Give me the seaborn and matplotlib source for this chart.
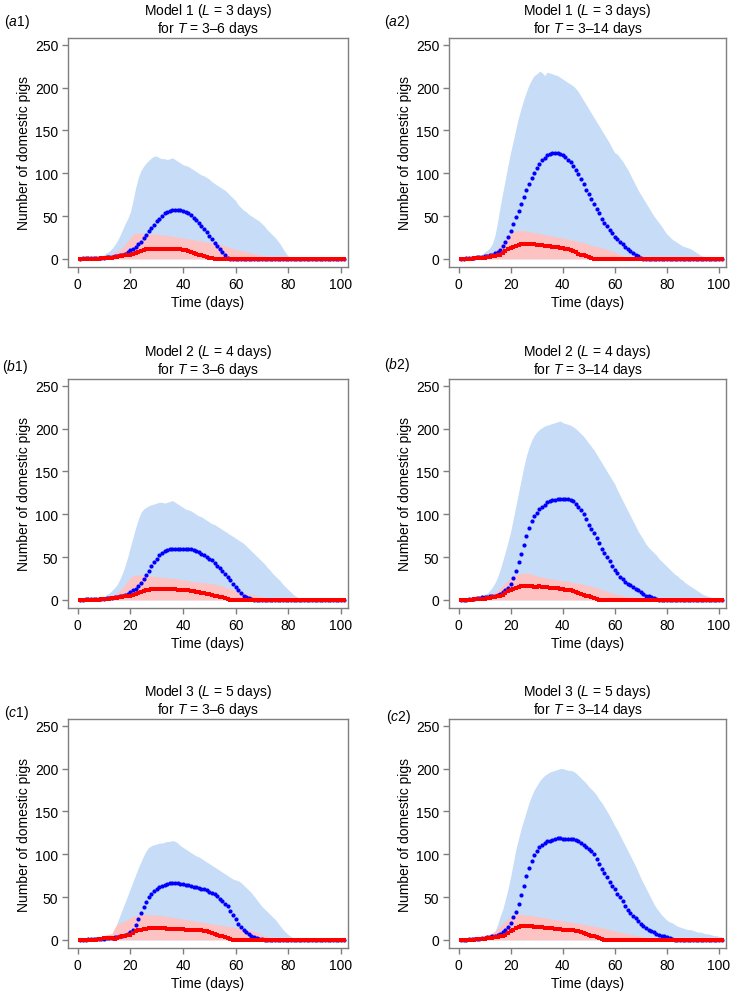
import numpy as np
import pandas as pd
import seaborn as sns
import matplotlib.pyplot as plt

# time axis (days 1..101)
days = list(range(1, 102))

# ---- Model 1, T = 3-6 days ----
a1_blue_hi = [0, 0, 0, 0, 0, 1, 1, 2, 3, 5,
              7, 9, 12, 16, 21, 27, 34, 41, 47, 55,
              68, 83, 95, 103, 108, 112, 115, 118, 120, 120,
              118, 117, 117, 116, 117, 118, 116, 114, 112, 110,
              109, 108, 106, 104, 102, 100, 98, 97, 95, 93,
              90, 88, 86, 84, 82, 80, 77, 74, 71, 68,
              63, 60, 57, 55, 52, 50, 48, 46, 44, 41,
              38, 34, 31, 28, 25, 21, 17, 12, 7, 3,
              1, 0, 0, 0, 0, 0, 0, 0, 0, 0,
              0, 0, 0, 0, 0, 0, 0, 0, 0, 0,
              0]
a1_blue_med = [0, 1, 1, 1, 1, 1, 1, 1, 1, 1,
               2, 2, 2, 3, 3, 4, 5, 6, 8, 10,
               12, 14, 17, 20, 24, 28, 32, 36, 40, 44,
               47, 50, 53, 55, 56, 57, 57, 57, 57, 56,
               55, 53, 51, 48, 45, 42, 38, 35, 31, 27,
               23, 19, 15, 11, 8, 4, 1, 0, 0, 0,
               0, 0, 0, 0, 0, 0, 0, 0, 0, 0,
               0, 0, 0, 0, 0, 0, 0, 0, 0, 0,
               0, 0, 0, 0, 0, 0, 0, 0, 0, 0,
               0, 0, 0, 0, 0, 0, 0, 0, 0, 0,
               0]
a1_red_hi = [0, 0, 0, 0, 0, 0, 1, 1, 2, 3,
             4, 5, 6, 7, 9, 11, 14, 17, 21, 25,
             28, 30, 30, 30, 29, 29, 29, 29, 29, 29,
             28, 28, 28, 27, 27, 26, 26, 25, 25, 24,
             24, 23, 23, 22, 22, 21, 21, 20, 20, 19,
             19, 18, 18, 17, 16, 15, 14, 13, 12, 11,
             10, 10, 9, 8, 8, 7, 6, 5, 5, 4,
             3, 3, 2, 2, 1, 1, 1, 0, 0, 0,
             0, 0, 0, 0, 0, 0, 0, 0, 0, 0,
             0, 0, 0, 0, 0, 0, 0, 0, 0, 0,
             0]
a1_red_med = [0, 0, 0, 0, 0, 0, 0, 0, 1, 1,
              1, 1, 1, 2, 2, 3, 3, 4, 5, 5,
              6, 7, 8, 9, 10, 11, 11, 12, 12, 12,
              12, 12, 12, 12, 12, 12, 12, 11, 11, 10,
              10, 9, 8, 7, 6, 5, 4, 3, 2, 1,
              1, 0, 0, 0, 0, 0, 0, 0, 0, 0,
              0, 0, 0, 0, 0, 0, 0, 0, 0, 0,
              0, 0, 0, 0, 0, 0, 0, 0, 0, 0,
              0, 0, 0, 0, 0, 0, 0, 0, 0, 0,
              0, 0, 0, 0, 0, 0, 0, 0, 0, 0,
              0]

# ---- Model 1, T = 3-14 days ----
a2_blue_hi = [0, 0, 0, 0, 1, 2, 3, 4, 5, 8,
              10, 13, 18, 28, 44, 62, 78, 94, 110, 125,
              138, 152, 165, 176, 186, 195, 203, 209, 214, 216,
              219, 218, 214, 218, 217, 216, 215, 214, 212, 210,
              208, 206, 204, 202, 199, 195, 190, 185, 180, 175,
              170, 165, 160, 155, 150, 145, 140, 135, 129, 124,
              122, 118, 114, 109, 104, 98, 92, 86, 80, 75,
              70, 65, 60, 55, 50, 46, 42, 38, 33, 29,
              26, 23, 21, 19, 17, 15, 14, 13, 12, 10,
              8, 6, 4, 3, 2, 1, 0, 0, 0, 0,
              0]
a2_blue_med = [0, 0, 1, 1, 1, 1, 2, 2, 2, 3,
               3, 4, 5, 7, 8, 10, 15, 20, 26, 33,
               41, 49, 56, 64, 72, 80, 87, 94, 100, 106,
               111, 115, 118, 121, 123, 124, 124, 124, 123, 121,
               119, 116, 113, 109, 104, 99, 93, 87, 81, 76,
               70, 64, 58, 53, 47, 42, 38, 34, 30, 26,
               23, 20, 17, 14, 12, 9, 7, 5, 3, 1,
               0, 0, 0, 0, 0, 0, 0, 0, 0, 0,
               0, 0, 0, 0, 0, 0, 0, 0, 0, 0,
               0, 0, 0, 0, 0, 0, 0, 0, 0, 0,
               0]
a2_red_hi = [0, 0, 0, 0, 0, 0, 1, 1, 2, 3,
             4, 6, 8, 10, 13, 16, 19, 23, 27, 30,
             32, 33, 33, 33, 33, 32, 32, 31, 31, 30,
             30, 29, 28, 28, 27, 27, 26, 25, 25, 24,
             24, 23, 22, 22, 21, 20, 20, 19, 18, 17,
             16, 15, 14, 14, 13, 12, 11, 10, 9, 8,
             6, 5, 3, 2, 1, 0, 0, 0, 0, 0,
             0, 0, 0, 0, 0, 0, 0, 0, 0, 0,
             0, 0, 0, 0, 0, 0, 0, 0, 0, 0,
             0, 0, 0, 0, 0, 0, 0, 0, 0, 0,
             0]
a2_red_med = [0, 0, 0, 0, 0, 1, 1, 1, 1, 1,
              2, 2, 3, 3, 4, 5, 7, 9, 11, 13,
              14, 15, 16, 17, 17, 17, 17, 17, 17, 16,
              16, 16, 15, 15, 15, 14, 14, 14, 13, 13,
              12, 11, 10, 9, 8, 6, 5, 4, 3, 2,
              1, 0, 0, 0, 0, 0, 0, 0, 0, 0,
              0, 0, 0, 0, 0, 0, 0, 0, 0, 0,
              0, 0, 0, 0, 0, 0, 0, 0, 0, 0,
              0, 0, 0, 0, 0, 0, 0, 0, 0, 0,
              0, 0, 0, 0, 0, 0, 0, 0, 0, 0,
              0]

# ---- Model 2, T = 3-6 days ----
b1_blue_hi = [0, 0, 0, 0, 0, 0, 1, 2, 3, 4,
              6, 8, 11, 14, 18, 24, 31, 40, 50, 62,
              73, 84, 94, 102, 106, 108, 110, 111, 112, 113,
              114, 114, 113, 114, 115, 116, 114, 112, 110, 108,
              106, 105, 104, 102, 100, 98, 97, 95, 93, 91,
              89, 88, 86, 84, 82, 80, 78, 76, 74, 72,
              70, 68, 66, 63, 60, 57, 54, 51, 48, 45,
              42, 38, 35, 31, 28, 25, 22, 18, 15, 12,
              9, 6, 4, 2, 1, 0, 0, 0, 0, 0,
              0, 0, 0, 0, 0, 0, 0, 0, 0, 0,
              0]
b1_blue_med = [0, 0, 1, 1, 1, 1, 1, 1, 1, 1,
               2, 2, 2, 3, 3, 4, 5, 6, 7, 9,
               11, 13, 16, 20, 24, 29, 34, 39, 44, 48,
               52, 55, 57, 58, 59, 60, 60, 60, 60, 60,
               60, 59, 59, 58, 57, 56, 54, 52, 50, 48,
               46, 43, 40, 37, 34, 30, 27, 23, 19, 15,
               11, 8, 5, 3, 2, 1, 0, 0, 0, 0,
               0, 0, 0, 0, 0, 0, 0, 0, 0, 0,
               0, 0, 0, 0, 0, 0, 0, 0, 0, 0,
               0, 0, 0, 0, 0, 0, 0, 0, 0, 0,
               0]
b1_red_hi = [0, 0, 0, 0, 0, 0, 0, 1, 1, 2,
             3, 4, 5, 7, 9, 11, 14, 18, 22, 26,
             28, 29, 29, 29, 29, 29, 28, 28, 27, 27,
             27, 26, 26, 26, 25, 25, 25, 24, 24, 23,
             23, 22, 22, 21, 21, 21, 20, 20, 20, 19,
             19, 18, 18, 17, 16, 15, 14, 13, 12, 11,
             10, 9, 8, 8, 7, 6, 6, 5, 4, 4,
             3, 3, 2, 2, 1, 1, 1, 0, 0, 0,
             0, 0, 0, 0, 0, 0, 0, 0, 0, 0,
             0, 0, 0, 0, 0, 0, 0, 0, 0, 0,
             0]
b1_red_med = [0, 0, 0, 0, 0, 0, 0, 0, 1, 1,
              1, 1, 2, 2, 2, 3, 3, 4, 4, 5,
              6, 7, 8, 9, 10, 11, 12, 13, 13, 13,
              13, 13, 13, 13, 13, 13, 13, 12, 12, 12,
              11, 11, 10, 10, 9, 9, 8, 8, 7, 7,
              6, 5, 4, 3, 3, 2, 1, 0, 0, 0,
              0, 0, 0, 0, 0, 0, 0, 0, 0, 0,
              0, 0, 0, 0, 0, 0, 0, 0, 0, 0,
              0, 0, 0, 0, 0, 0, 0, 0, 0, 0,
              0, 0, 0, 0, 0, 0, 0, 0, 0, 0,
              0]

# ---- Model 2, T = 3-14 days ----
b2_blue_hi = [0, 0, 0, 0, 1, 1, 2, 3, 4, 6,
              8, 11, 15, 20, 27, 36, 46, 57, 68, 80,
              95, 110, 125, 140, 155, 168, 178, 186, 192, 196,
              199, 201, 203, 204, 205, 206, 207, 208, 209, 207,
              206, 205, 204, 202, 200, 197, 194, 191, 187, 183,
              179, 175, 170, 165, 160, 155, 150, 145, 140, 135,
              128, 122, 116, 110, 104, 98, 92, 86, 80, 75,
              70, 65, 61, 58, 55, 52, 48, 45, 42, 39,
              36, 33, 30, 28, 25, 23, 20, 18, 16, 14,
              12, 10, 8, 6, 5, 4, 3, 2, 1, 0,
              0]
b2_blue_med = [0, 0, 0, 1, 1, 1, 2, 2, 3, 3,
               3, 4, 4, 5, 6, 7, 9, 11, 14, 18,
               25, 34, 44, 54, 64, 75, 84, 92, 98, 102,
               106, 109, 111, 114, 116, 117, 117, 118, 118, 118,
               118, 118, 117, 115, 112, 109, 105, 100, 94, 88,
               83, 78, 72, 66, 60, 55, 50, 45, 40, 35,
               31, 27, 24, 21, 19, 17, 15, 13, 11, 9,
               7, 5, 4, 3, 2, 1, 0, 0, 0, 0,
               0, 0, 0, 0, 0, 0, 0, 0, 0, 0,
               0, 0, 0, 0, 0, 0, 0, 0, 0, 0,
               0]
b2_red_hi = [0, 0, 0, 0, 0, 0, 1, 1, 2, 3,
             4, 5, 7, 9, 11, 14, 17, 20, 23, 26,
             28, 29, 30, 31, 31, 31, 31, 30, 29, 28,
             27, 27, 26, 25, 25, 24, 24, 23, 23, 22,
             22, 22, 21, 20, 20, 19, 19, 18, 17, 16,
             16, 15, 14, 13, 12, 11, 10, 9, 8, 7,
             6, 6, 5, 4, 4, 3, 3, 2, 2, 1,
             1, 0, 0, 0, 0, 0, 0, 0, 0, 0,
             0, 0, 0, 0, 0, 0, 0, 0, 0, 0,
             0, 0, 0, 0, 0, 0, 0, 0, 0, 0,
             0]
b2_red_med = [0, 0, 0, 0, 0, 1, 1, 1, 1, 1,
              2, 2, 3, 3, 4, 5, 6, 8, 10, 12,
              13, 14, 15, 16, 16, 16, 16, 16, 15, 15,
              16, 15, 15, 15, 14, 14, 14, 14, 13, 13,
              12, 11, 11, 10, 9, 8, 7, 6, 5, 4,
              3, 2, 1, 0, 0, 0, 0, 0, 0, 0,
              0, 0, 0, 0, 0, 0, 0, 0, 0, 0,
              0, 0, 0, 0, 0, 0, 0, 0, 0, 0,
              0, 0, 0, 0, 0, 0, 0, 0, 0, 0,
              0, 0, 0, 0, 0, 0, 0, 0, 0, 0,
              0]

# ---- Model 3, T = 3-6 days ----
c1_blue_hi = [0, 0, 0, 0, 0, 0, 0, 1, 1, 2,
              3, 4, 6, 12, 20, 28, 36, 44, 52, 60,
              68, 76, 84, 91, 98, 104, 108, 110, 111, 112,
              113, 113, 114, 115, 115, 116, 115, 113, 110, 108,
              106, 104, 102, 100, 98, 97, 95, 93, 91, 89,
              87, 85, 83, 81, 79, 77, 75, 73, 71, 70,
              69, 67, 64, 61, 58, 55, 51, 47, 43, 39,
              36, 33, 30, 27, 24, 20, 16, 12, 9, 6,
              4, 2, 1, 0, 0, 0, 0, 0, 0, 0,
              0, 0, 0, 0, 0, 0, 0, 0, 0, 0,
              0]
c1_blue_med = [0, 0, 0, 1, 1, 1, 1, 1, 1, 1,
               2, 2, 2, 3, 3, 4, 5, 6, 7, 9,
               12, 17, 24, 31, 38, 44, 50, 54, 57, 60,
               62, 63, 64, 65, 66, 66, 66, 66, 65, 65,
               64, 64, 63, 62, 62, 61, 60, 59, 58, 56,
               55, 53, 51, 48, 45, 42, 39, 34, 29, 24,
               19, 15, 12, 9, 7, 5, 3, 2, 1, 1,
               0, 0, 0, 0, 0, 0, 0, 0, 0, 0,
               0, 0, 0, 0, 0, 0, 0, 0, 0, 0,
               0, 0, 0, 0, 0, 0, 0, 0, 0, 0,
               0]
c1_red_hi = [0, 0, 0, 0, 0, 0, 0, 1, 3, 5,
             6, 7, 7, 14, 18, 20, 21, 22, 24, 26,
             27, 28, 29, 30, 30, 30, 29, 29, 29, 29,
             29, 28, 28, 27, 27, 26, 26, 25, 25, 24,
             24, 23, 23, 22, 22, 21, 21, 20, 20, 19,
             19, 18, 18, 17, 17, 16, 16, 15, 15, 14,
             14, 13, 13, 12, 12, 11, 10, 9, 8, 6,
             5, 4, 3, 2, 1, 0, 0, 0, 0, 0,
             0, 0, 0, 0, 0, 0, 0, 0, 0, 0,
             0, 0, 0, 0, 0, 0, 0, 0, 0, 0,
             0]
c1_red_med = [0, 0, 0, 0, 0, 0, 0, 1, 1, 2,
              2, 2, 2, 1, 2, 3, 4, 5, 6, 6,
              8, 10, 11, 12, 13, 13, 14, 14, 14, 14,
              14, 14, 14, 13, 13, 13, 13, 13, 13, 13,
              12, 12, 12, 12, 11, 11, 11, 10, 10, 9,
              8, 7, 6, 5, 4, 3, 2, 1, 0, 0,
              0, 0, 0, 0, 0, 0, 0, 0, 0, 0,
              0, 0, 0, 0, 0, 0, 0, 0, 0, 0,
              0, 0, 0, 0, 0, 0, 0, 0, 0, 0,
              0, 0, 0, 0, 0, 0, 0, 0, 0, 0,
              0]

# ---- Model 3, T = 3-14 days ----
c2_blue_hi = [0, 0, 0, 0, 0, 1, 1, 2, 3, 4,
              5, 6, 7, 10, 18, 28, 36, 48, 60, 74,
              90, 106, 118, 130, 140, 150, 160, 168, 175, 180,
              185, 189, 192, 194, 196, 197, 198, 199, 200, 200,
              199, 198, 198, 197, 195, 192, 189, 186, 183, 179,
              176, 173, 169, 164, 160, 155, 150, 145, 139, 133,
              128, 122, 116, 110, 104, 98, 92, 86, 79, 72,
              66, 60, 54, 48, 42, 37, 33, 29, 26, 23,
              21, 20, 18, 16, 15, 14, 13, 12, 12, 11,
              10, 9, 9, 8, 7, 7, 6, 5, 5, 4,
              4]
c2_blue_med = [0, 0, 0, 1, 1, 1, 1, 1, 2, 2,
               3, 3, 4, 5, 6, 7, 9, 12, 15, 20,
               27, 33, 42, 52, 63, 75, 84, 92, 99, 104,
               108, 111, 113, 115, 116, 117, 118, 119, 119, 118,
               118, 118, 118, 118, 117, 115, 113, 111, 109, 106,
               104, 100, 95, 89, 83, 78, 73, 68, 63, 59,
               54, 50, 45, 40, 35, 31, 28, 25, 22, 19,
               16, 14, 12, 10, 9, 7, 6, 5, 4, 3,
               2, 1, 0, 0, 0, 0, 0, 0, 0, 0,
               0, 0, 0, 0, 0, 0, 0, 0, 0, 0,
               0]
c2_red_hi = [0, 0, 0, 0, 0, 0, 1, 2, 3, 5,
             6, 7, 8, 10, 13, 16, 19, 22, 25, 27,
             29, 30, 30, 30, 29, 29, 29, 28, 28, 27,
             27, 26, 26, 25, 25, 24, 24, 23, 23, 22,
             22, 21, 21, 20, 20, 19, 19, 18, 18, 17,
             16, 16, 15, 15, 14, 13, 13, 12, 11, 10,
             10, 9, 8, 8, 7, 6, 6, 5, 5, 4,
             4, 3, 3, 2, 2, 1, 1, 1, 0, 0,
             0, 0, 0, 0, 0, 0, 0, 0, 0, 0,
             0, 0, 0, 0, 0, 0, 0, 0, 0, 0,
             0]
c2_red_med = [0, 0, 0, 0, 0, 0, 1, 1, 1, 1,
              2, 2, 2, 3, 3, 4, 5, 6, 8, 10,
              12, 14, 15, 16, 16, 16, 16, 16, 15, 15,
              15, 15, 14, 14, 14, 14, 13, 13, 13, 12,
              12, 12, 11, 11, 10, 10, 9, 8, 7, 6,
              5, 4, 3, 2, 1, 0, 0, 0, 0, 0,
              0, 0, 0, 0, 0, 0, 0, 0, 0, 0,
              0, 0, 0, 0, 0, 0, 0, 0, 0, 0,
              0, 0, 0, 0, 0, 0, 0, 0, 0, 0,
              0, 0, 0, 0, 0, 0, 0, 0, 0, 0,
              0]

titles = ["Model 1 ($L$ = 3 days)\nfor $T$ = 3\u20136 days",
          "Model 1 ($L$ = 3 days)\nfor $T$ = 3\u201314 days",
          "Model 2 ($L$ = 4 days)\nfor $T$ = 3\u20136 days",
          "Model 2 ($L$ = 4 days)\nfor $T$ = 3\u201314 days",
          "Model 3 ($L$ = 5 days)\nfor $T$ = 3\u20136 days",
          "Model 3 ($L$ = 5 days)\nfor $T$ = 3\u201314 days"]
labels = ["($a$1)", "($a$2)", "($b$1)", "($b$2)", "($c$1)", "($c$2)"]

panels = [(a1_blue_hi, a1_blue_med, a1_red_hi, a1_red_med),
          (a2_blue_hi, a2_blue_med, a2_red_hi, a2_red_med),
          (b1_blue_hi, b1_blue_med, b1_red_hi, b1_red_med),
          (b2_blue_hi, b2_blue_med, b2_red_hi, b2_red_med),
          (c1_blue_hi, c1_blue_med, c1_red_hi, c1_red_med),
          (c2_blue_hi, c2_blue_med, c2_red_hi, c2_red_med)]

sns.set_style("ticks")
plt.rcParams['font.family'] = ['Liberation Sans', 'DejaVu Sans']
plt.rcParams['mathtext.fontset'] = 'custom'
plt.rcParams['mathtext.rm'] = 'Liberation Sans'
plt.rcParams['mathtext.it'] = 'Liberation Sans:italic'
plt.rcParams['text.color'] = 'black'
plt.rcParams['axes.labelcolor'] = 'black'
plt.rcParams['xtick.labelcolor'] = 'black'
plt.rcParams['ytick.labelcolor'] = 'black'

W, H = 733, 1003
fig = plt.figure(figsize=(W / 100, H / 100), dpi=100)

lefts = [68, 449]
widths = [280, 277]
tops = [39, 380, 720]
label_pos = [(4, 22), (384, 22), (2, 367), (384, 365), (4, 713), (386, 717)]
grey = '#7f7f7f'

for i, (blue_hi, blue_med, red_hi, red_med) in enumerate(panels):
    row, col = divmod(i, 2)
    x0 = lefts[col]
    w = widths[col]
    top = tops[row]
    ax = fig.add_axes([x0 / W, 1 - (top + 229) / H, w / W, 229 / H])

    df = pd.DataFrame({'day': days, 'blue_hi': blue_hi, 'blue_med': blue_med,
                       'red_hi': red_hi, 'red_med': red_med})

    ax.fill_between(df['day'], 0, df['blue_hi'], color='#c6dcf7', lw=0, zorder=1)
    ax.fill_between(df['day'], 0, df['red_hi'], color='#fdc3c3', lw=0, zorder=2)
    sns.scatterplot(data=df, x='day', y='blue_med', ax=ax, color='#0000ff',
                    s=9, linewidth=0, zorder=3)
    sns.lineplot(data=df, x='day', y='red_med', ax=ax, color='#ff0000',
                 marker='s', markersize=2.6, markeredgewidth=0, linewidth=1.3,
                 zorder=4)

    ax.set_xlim(-3.7, 102.7)
    ax.set_ylim(-9.5, 258)
    ax.set_xticks([0, 20, 40, 60, 80, 100])
    ax.set_yticks([0, 50, 100, 150, 200, 250])
    ax.set_xlabel("Time (days)", fontsize=10, labelpad=3)
    ax.set_ylabel("Number of domestic pigs", fontsize=10, labelpad=3)
    ax.set_title(titles[i], fontsize=10, pad=4, linespacing=1.0)
    ax.tick_params(length=4, width=1, color=grey, labelsize=10, pad=3)
    for sp in ax.spines.values():
        sp.set_visible(True)
        sp.set_color(grey)
        sp.set_linewidth(1)

    lx, ly = label_pos[i]
    fig.text(lx / W, 1 - ly / H, labels[i], fontsize=10, va='center', ha='left')

fig.savefig("out.png", dpi=100)
